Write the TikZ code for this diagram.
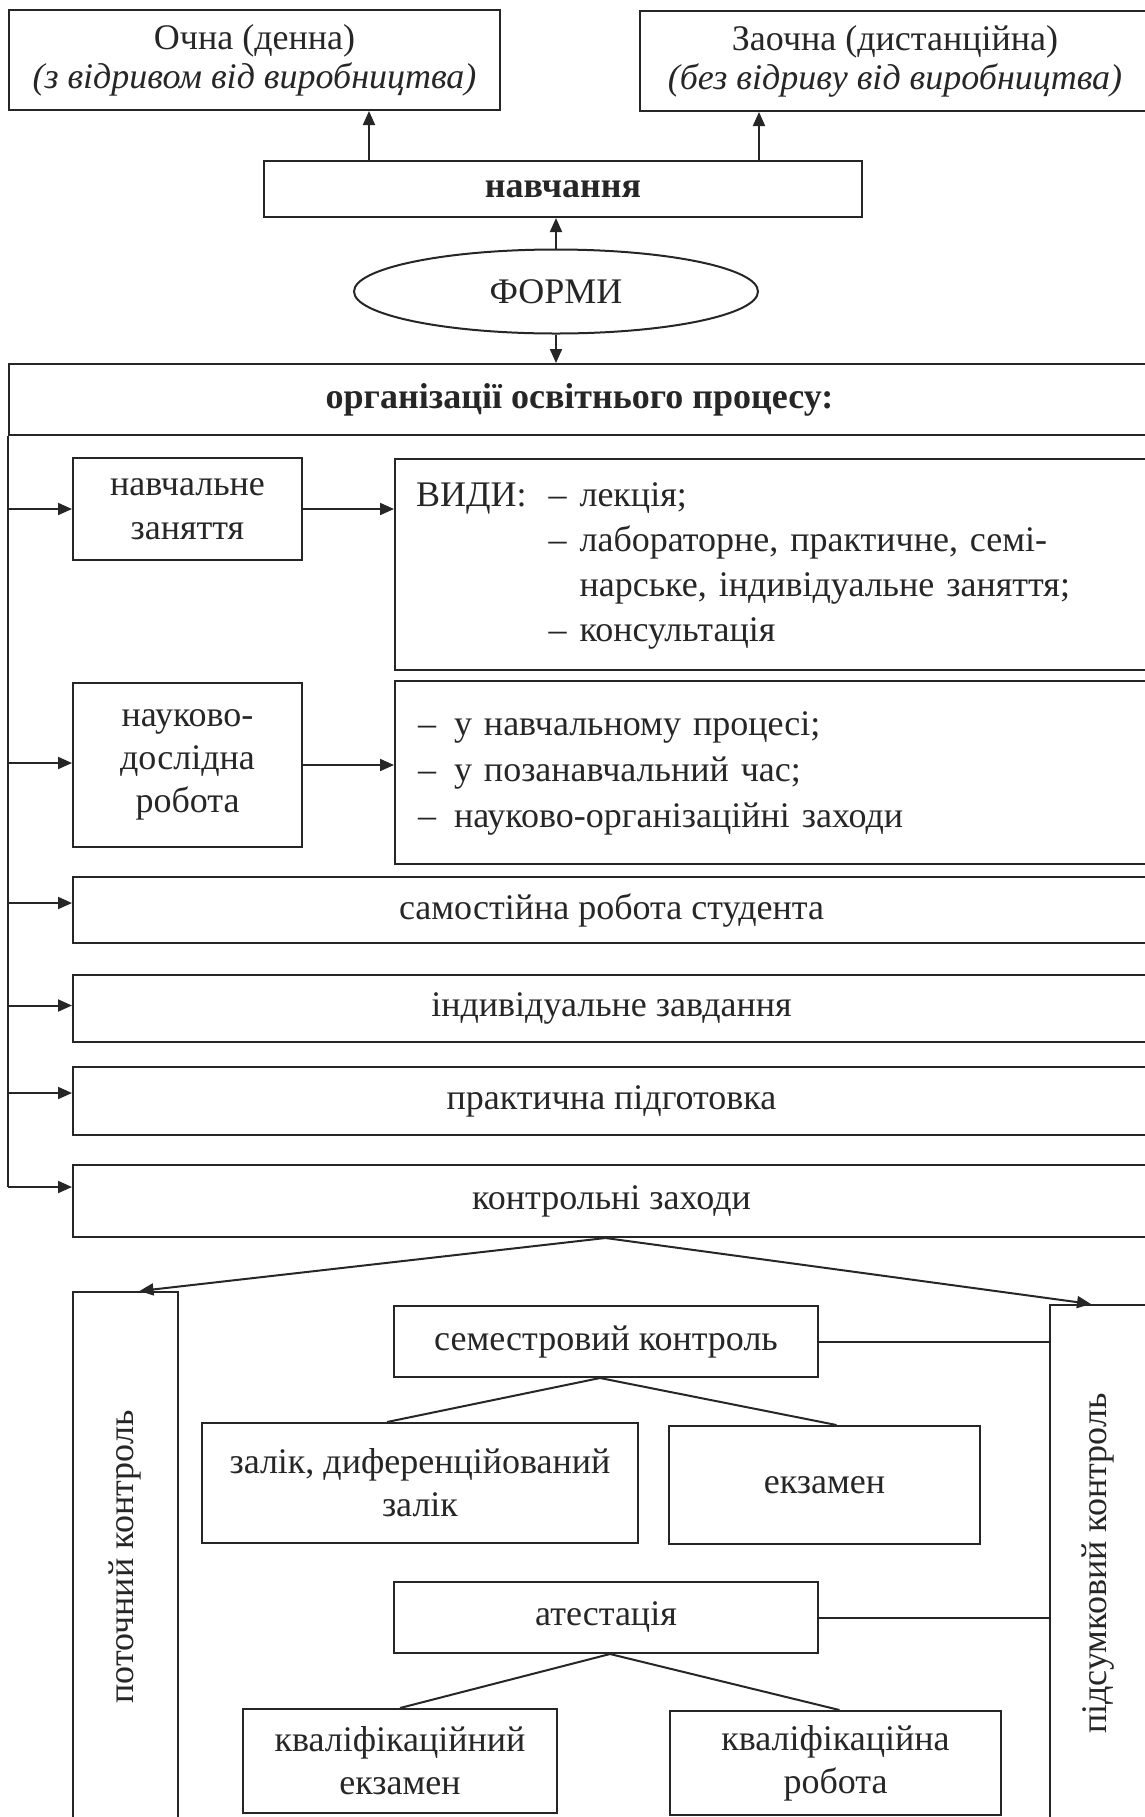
\documentclass[tikz,border=0pt]{standalone}
\usepackage{fontspec}
\setmainfont{Liberation Serif}
\usetikzlibrary{arrows.meta,shapes.geometric}

\begin{document}
\begin{tikzpicture}[x=0.5pt,y=-0.5pt,
        box/.style={draw=black!85,text=black!85,line width=1pt,inner sep=0pt,align=center,
            font=\fontsize{18}{21.5}\selectfont},
        arr/.style={draw=black!85,line width=1pt,-{Triangle[length=7pt,width=6pt]}},
        ln/.style={draw=black!85,line width=1pt}]
    \useasboundingbox (0,0) rectangle (1145,1817);
    \clip (0,0) rectangle (1145,1817);
    % forms of study
    \node [box,minimum width=245.5pt,minimum height=50pt,font=\fontsize{18}{19.5}\selectfont] (ochna) at (254.5,60) {Очна (денна)\\\textit{(з відривом від виробництва)}};
    \node [box,minimum width=255pt,minimum height=50pt,font=\fontsize{18}{19.5}\selectfont] (zaochna) at (895,61) {Заочна (дистанційна)\\\textit{(без відриву від виробництва)}};
    \node [box,minimum width=299pt,minimum height=28pt] (navch) at (563,189) {\textbf{навчання}};
    \node [box,ellipse,minimum width=202pt,minimum height=42pt] (formy) at (556,291.5) {ФОРМИ};
    \node [box,minimum width=570.5pt,minimum height=35.5pt] (proces) at (579.5,399.5) {\textbf{організації освітнього процесу:}};
    \coordinate (n1) at ([xshift=53pt]navch.north west);
    \coordinate (n2) at ([xshift=-52pt]navch.north east);
    \draw [arr] (n1) -- (n1 |- ochna.south);
    \draw [arr] (n2) -- (n2 |- zaochna.south);
    \draw [arr] (formy.north) -- (formy.north |- navch.south);
    \draw [arr] (formy.south) -- (formy.south |- proces.north);
    % kinds of work
    \node [box,minimum width=114.5pt,minimum height=51pt,font=\fontsize{18}{22}\selectfont] (zanyattia) at (187.5,509) {навчальне\\заняття};
    \node [box,minimum width=377.5pt,minimum height=105.5pt,inner xsep=10.5pt,text width=356.5pt,align=left,
        font=\fontsize{18}{22.5}\selectfont] (vydy) at (772.5,564.5) {%
        \begin{tabular}{@{}l@{\hspace{11pt}}l@{\hspace{6.5pt}}l@{}}
            ВИДИ: & – & лекція;\\
                  & – & лабораторне, практичне, семі-\\
                  &   & нарське, індивідуальне заняття;\\
                  & – & консультація
        \end{tabular}};
    \node [box,minimum width=114.5pt,minimum height=82pt] (doslidna) at (187.5,765) {науково-\\дослідна\\робота};
    \node [box,minimum width=377.5pt,minimum height=91.5pt,inner xsep=11.5pt,text width=354.5pt,align=left,
        font=\fontsize{18}{23}\selectfont] (sfery) at (772.5,772) {%
        \begin{tabular}{@{}l@{\hspace{9pt}}l@{}}
            – & у навчальному процесі;\\
            – & у позанавчальний час;\\
            – & науково-організаційні заходи
        \end{tabular}};
    \node [box,minimum width=538.5pt,minimum height=33pt] (samost) at (611.5,910) {самостійна робота студента};
    \node [box,minimum width=538.5pt,minimum height=33.5pt] (indyv) at (611.5,1008.5) {індивідуальне завдання};
    \node [box,minimum width=538.5pt,minimum height=34pt] (prakt) at (611.5,1101) {практична підготовка};
    \node [box,minimum width=538.5pt,minimum height=36pt] (kontrol) at (611.5,1201) {контрольні заходи};
    \draw [ln] (proces.south west) -- ([yshift=7pt]proces.south west |- kontrol.west);
    \foreach \n/\dy in {zanyattia/0,doslidna/1,samost/3.5,indyv/1.5,prakt/4,kontrol/7}
        \draw [arr] ([yshift=\dy pt]proces.south west |- \n.west) -- ([yshift=\dy pt]\n.west);
    \draw [arr] (zanyattia.east) -- (zanyattia.east -| vydy.west);
    \draw [arr] (doslidna.east) -- (doslidna.east -| sfery.west);
    % control
    \node [box,rotate=90,minimum width=265pt,minimum height=52.5pt] (potoch) at (125.5,1557) {поточний контроль};
    \node [box,rotate=90,minimum width=258.5pt,minimum height=48.5pt] (pidsum) at (1098.5,1563.5) {підсумковий контроль};
    \node [box,minimum width=212pt,minimum height=35.5pt] (sem) at (606,1341.5) {семестровий контроль};
    \node [box,minimum width=218pt,minimum height=60pt] (zalik) at (420,1483) {залік, диференційований\\залік};
    \node [box,minimum width=155.5pt,minimum height=59pt] (ekzamen) at (824.5,1485) {екзамен};
    \node [box,minimum width=212pt,minimum height=35.5pt] (atest) at (606,1617.5) {атестація};
    \node [box,minimum width=157pt,minimum height=52pt] (kvekz) at (400,1761) {кваліфікаційний\\екзамен};
    \node [box,minimum width=165.5pt,minimum height=52pt] (kvrob) at (835.5,1763) {кваліфікаційна\\робота};
    \draw [arr] ([xshift=-3pt]kontrol.south) -- ([xshift=7pt]potoch.east);
    \draw [arr] ([xshift=-3pt]kontrol.south) -- ([xshift=21pt]pidsum.north east);
    \draw [ln] (sem.east) -- (sem.east -| pidsum.north);
    \draw [ln] (atest.east) -- (atest.east -| pidsum.north);
    \draw [ln] ([xshift=-3pt]sem.south) -- ([xshift=-16.5pt]zalik.north);
    \draw [ln] ([xshift=-3pt]sem.south) -- ([xshift=6pt]ekzamen.north);
    \draw [ln] ([xshift=2pt]atest.south) -- (kvekz.north);
    \draw [ln] ([xshift=2pt]atest.south) -- ([xshift=2pt]kvrob.north);
\end{tikzpicture}
\end{document}
